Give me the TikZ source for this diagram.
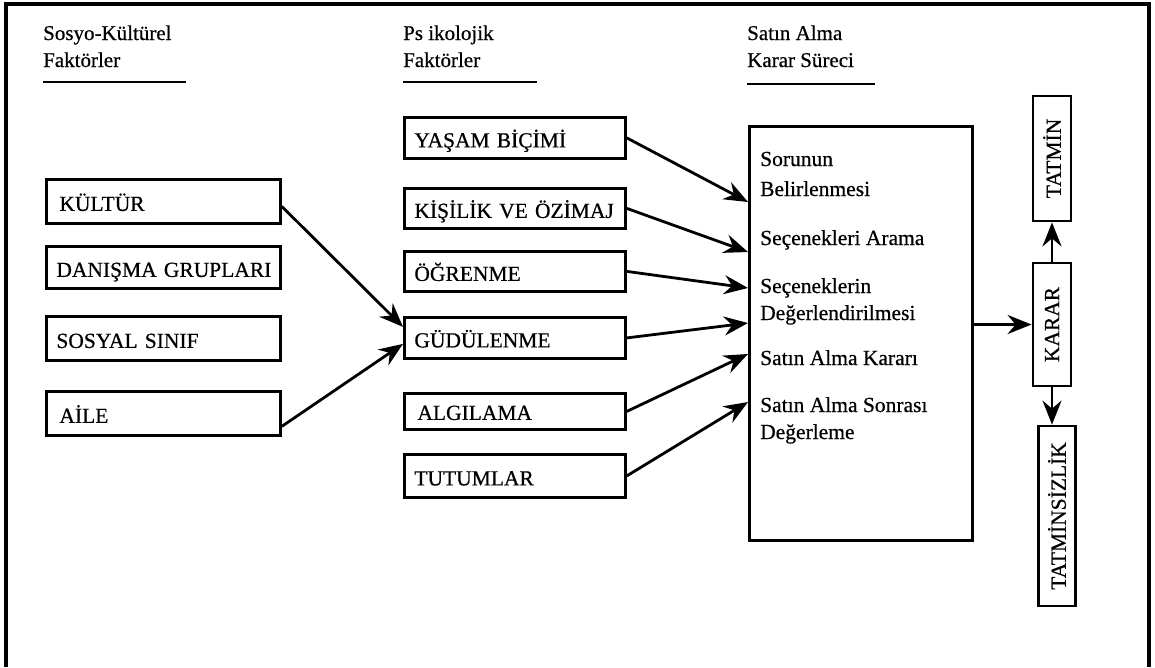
\documentclass[tikz,border=0pt]{standalone}
\usepackage{fontspec}
\setmainfont{Liberation Serif}[FakeBold=0.6]
\usetikzlibrary{arrows.meta,calc}

\begin{document}
\begin{tikzpicture}[x=1pt,y=-1pt,
  txt/.style={font=\fontsize{21.5}{26}\selectfont},
  head/.style={font=\fontsize{21}{26}\selectfont, inner sep=0pt, anchor=base west},
  line/.style={txt, inner sep=0pt, anchor=base west},
  fbox/.style={draw, line width=2.8pt, txt, anchor=north west, align=left,
    inner xsep=10pt, inner ysep=0pt, text height=19pt, text depth=0pt},
  lbox/.style={fbox, text width=214pt},
  mbox/.style={fbox, text width=201pt},
  vbox/.style={draw, line width=2.8pt, txt, inner sep=0pt, minimum width=38pt},
  uline/.style={line width=2.8pt},
  arr/.style={line width=2.8pt, -{Stealth[length=24pt, width=19pt, inset=8pt]}}]

\useasboundingbox (0,0) rectangle (1155,667);

% outer frame, open at the bottom
\draw[line width=3.5pt] (6,667) -- (6,4) -- (1149,4) -- (1149,667);

% column headings
\node[head] (h1a) at (43,40) {Sosyo-Kültürel};
\node[head] (h1b) at (43,67) {Faktörler};
\draw[uline] (43,82) -- (186,82);
\node[head] (h2a) at (403,40) {Ps ikolojik};
\node[head] (h2b) at (403,67) {Faktörler};
\draw[uline] (403,82) -- (537,82);
\node[head] (h3a) at (747,40) {Satın Alma};
\node[head] (h3b) at (747,67) {Karar Süreci};
\draw[uline] (747,84) -- (875,84);

% socio-cultural factors
\node[lbox, minimum height=44pt] (kultur)  at (45,178) {\hspace*{3pt}KÜLTÜR};
\node[lbox, minimum height=42pt] (danisma) at (45,245) {\mbox{DANIŞMA GRUPLARI}};
\node[lbox, minimum height=44pt] (sosyal)  at (45,315) {SOSYAL SINIF};
\node[lbox, minimum height=44pt] (aile)    at (45,390) {\hspace*{3pt}AİLE};

% psychological factors
\node[mbox, minimum height=41pt] (yasam)    at (403,116) {YAŞAM BİÇİMİ};
\node[mbox, minimum height=40pt] (kisilik)  at (403,187) {KİŞİLİK VE ÖZİMAJ};
\node[mbox, minimum height=40pt] (ogrenme)  at (403,250) {ÖĞRENME};
\node[mbox, minimum height=41pt] (gudul)    at (403,316) {GÜDÜLENME};
\node[mbox, minimum height=36pt, text height=17pt] (algilama) at (403,392) {\hspace*{3pt}ALGILAMA};
\node[mbox, minimum height=43pt] (tutum)    at (403,453) {TUTUMLAR};

% purchase decision process
\node[draw, line width=2.8pt, anchor=north west, inner sep=0pt,
  minimum width=223pt, minimum height=414pt] (proc) at (748,125) {};
\node[line] (p1a) at (760,166) {Sorunun};
\node[line] (p1b) at (760,196) {Belirlenmesi};
\node[line] (p2)  at (760,245) {Seçenekleri Arama};
\node[line] (p3a) at (760,293) {Seçeneklerin};
\node[line] (p3b) at (760,320) {Değerlendirilmesi};
\node[line] (p4)  at (760,365) {Satın Alma Kararı};
\node[line] (p5a) at (760,412) {Satın Alma Sonrası};
\node[line] (p5b) at (760,439) {Değerleme};

% entry points on the process box
\coordinate (t1) at (748,202);
\coordinate (t2) at (748,252);
\coordinate (t3) at (748,288);
\coordinate (t4) at (748,323);
\coordinate (t5) at (748,354);
\coordinate (t6) at (748,402);

% outcome boxes
\node[vbox, minimum height=125pt] (tatmin) at (1052,158.5) {\rotatebox{90}{TATMİN}};
\node[vbox, minimum height=123pt] (karar)  at (1052,324.5) {\rotatebox{90}{KARAR}};
\node[vbox, minimum height=180pt, minimum width=37pt] (tatsiz) at (1057,516) {\rotatebox{90}{TATMİNSİZLİK}};

% connectors
\draw[arr] ([yshift=-5pt]kultur.east) -- ([yshift=11pt]gudul.west);
\draw[arr] ([yshift=-13pt]aile.east) -- ([yshift=-6pt]gudul.west);

\draw[arr] (yasam.east)    -- (t1);
\draw[arr] (kisilik.east)  -- (t2);
\draw[arr] (ogrenme.east)  -- (t3);
\draw[arr] (gudul.east)    -- (t4);
\draw[arr] (algilama.east) -- (t5);
\draw[arr] (tutum.east)    -- (t6);

\draw[arr] (proc.east |- karar.west) -- (karar.west);
\draw[arr] (karar.north) -- (tatmin.south);
\draw[arr] (karar.south) -- (karar.south |- tatsiz.north);
\end{tikzpicture}
\end{document}
